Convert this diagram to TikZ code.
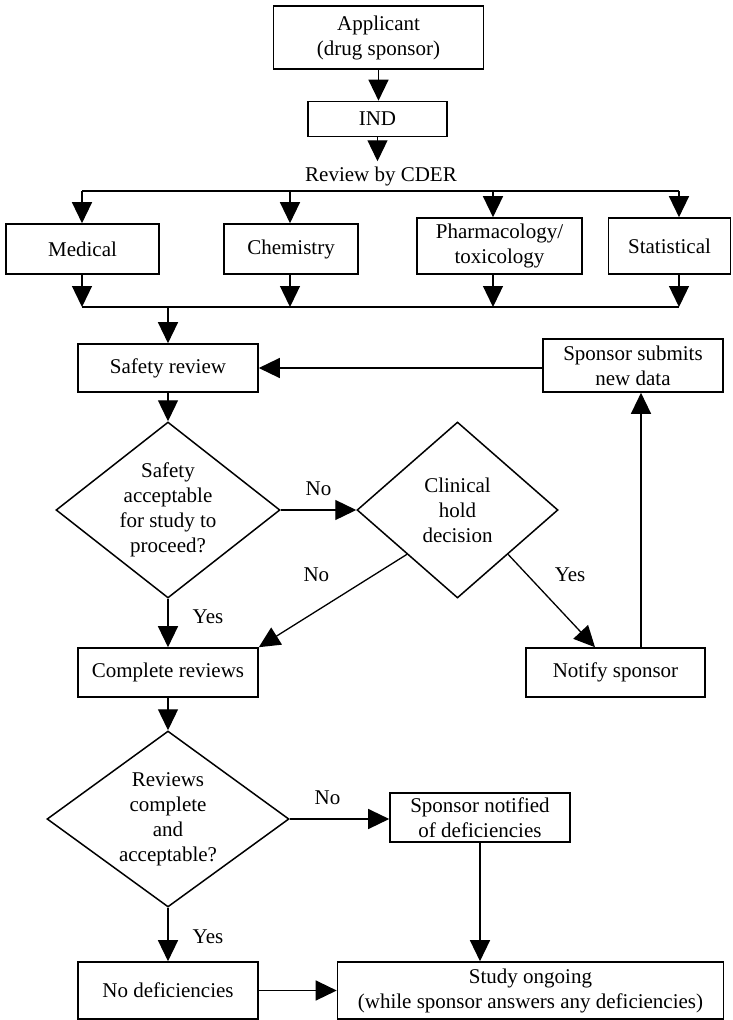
\documentclass[tikz,border=0pt]{standalone}
\usepackage{fontspec}
\setmainfont{Liberation Serif}
\usetikzlibrary{shapes}
\usetikzlibrary{positioning}
\usetikzlibrary{arrows.meta}
\tikzset{
    mybox/.style = {rectangle, line width=1.6pt, draw=black, align=center, inner sep=0pt, font=\fontsize{21}{25}\selectfont},
    mydiam/.style = {diamond, line width=1.5pt, draw=black, align=center, inner sep=0pt, font=\fontsize{21}{25}\selectfont},
    mytext/.style = {align=center, inner sep=5pt, font=\fontsize{21}{25}\selectfont},
    mylabel/.style = {inner sep=0pt, font=\fontsize{21}{25}\selectfont},
    edgen/.style = {-{Triangle[length=21pt,width=20pt]}, line width=1.3pt, black},
    edgep/.style = {-, line width=1.3pt, black}, % plain bus line
}

\begin{document}
\begin{tikzpicture}[x=1pt,y=-1pt]
\useasboundingbox (0,0) rectangle (732,1020);

\node[mybox, minimum width=210pt, minimum height=63pt] at (378.5,  37.5) (appl) {Applicant\\(drug sponsor)};
\node[mybox, minimum width=139pt, minimum height=35pt] at (377.5, 119.0) (ind) {IND};
\node[mytext] at (381.0, 176.0) (cder) {Review by CDER};
\node[mybox, minimum width=153pt, minimum height=50pt] at ( 82.5, 249.0) (med) {Medical};
\node[mybox, minimum width=134pt, minimum height=50pt] at (291.0, 249.0) (chem) {Chemistry};
\node[mybox, minimum width=165pt, minimum height=56pt] at (499.5, 246.0) (pharm) {Pharmacology/\\toxicology};
\node[mybox, minimum width=122pt, minimum height=56pt] at (669.5, 246.0) (stat) {Statistical};
\node[mybox, minimum width=180pt, minimum height=48pt] at (168.0, 368.0) (safe) {Safety review};
\node[mybox, minimum width=180pt, minimum height=53pt] at (633.0, 365.5) (subm) {Sponsor submits\\new data};
\node[mydiam, aspect=1.27, minimum width=224pt, minimum height=176pt] at (168.0, 510.0) (dia1) {Safety\\acceptable\\for study to\\proceed?};
\node[mydiam, aspect=1.14, minimum width=201pt, minimum height=176pt] at (457.5, 510.0) (dia2) {Clinical\\hold\\decision};
\node[mybox, minimum width=180pt, minimum height=49pt] at (168.0, 672.5) (comp) {Complete reviews};
\node[mybox, minimum width=179pt, minimum height=49pt] at (615.5, 672.5) (notify) {Notify sponsor};
\node[mydiam, aspect=1.37, minimum width=242pt, minimum height=176pt] at (168.0, 819.0) (dia3) {Reviews\\complete\\and\\acceptable?};
\node[mybox, minimum width=180pt, minimum height=49pt] at (480.0, 817.5) (notif) {Sponsor notified\\of deficiencies};
\node[mybox, minimum width=180pt, minimum height=57pt] at (168.0, 990.5) (nodef) {No deficiencies};
\node[mybox, minimum width=386pt, minimum height=57pt] at (530.5, 990.5) (study) {Study ongoing\\(while sponsor answers any deficiencies)};

% bus points
\coordinate (ta) at ( 82.0, 191.0);
\coordinate (tb) at (290.0, 191.0);
\coordinate (tc) at (493.0, 191.0);
\coordinate (td) at (679.0, 191.0);
\coordinate (ba) at ( 82.0, 307.0);
\coordinate (bb) at (290.0, 307.0);
\coordinate (bc) at (493.0, 307.0);
\coordinate (bd) at (679.0, 307.0);
\coordinate (bs) at (168.0, 307.0);

\draw[edgen] (appl.south) -- (appl.south |- ind.north);
\draw[edgen] (ind.south) -- (ind.south |- cder.north);
\draw[edgep] (ta) -- (td);
\draw[edgen] (ta) -- (ta |- med.north);
\draw[edgen] (tb) -- (tb |- chem.north);
\draw[edgen] (tc) -- (tc |- pharm.north);
\draw[edgen] (td) -- (td |- stat.north);
\draw[edgen] (ba |- med.south) -- (ba);
\draw[edgen] (bb |- chem.south) -- (bb);
\draw[edgen] (bc |- pharm.south) -- (bc);
\draw[edgen] (bd |- stat.south) -- (bd);
\draw[edgep] (ba) -- (bd);
\draw[edgen] (bs) -- (safe.north);
\draw[edgen] (subm.west |- safe.east) -- (safe.east);
\draw[edgen] (safe.south) -- (dia1.north);
\draw[edgen] (dia1.east) -- node[mylabel, yshift=21pt] {No} (dia2.west);
\draw[edgen] (dia1.south) -- node[mylabel, xshift=40pt, yshift=6pt] {Yes} (comp.north);
\draw[edgen] (dia2.south west) -- node[mylabel, xshift=-16.5pt, yshift=26pt] {No} (comp.north east);
\draw[edgen] (dia2.south east) -- node[mylabel, xshift=18.5pt, yshift=26pt] {Yes} ([xshift=-20.5pt]notify.north);
\draw[edgen] ([xshift=25.5pt]notify.north) -- ([xshift=25.5pt]notify.north |- subm.south);
\draw[edgen] (comp.south) -- (dia3.north);
\draw[edgen] (dia3.east) -- node[mylabel, xshift=-12pt, yshift=21pt] {No} (notif.west |- dia3.east);
\draw[edgen] (dia3.south) -- node[mylabel, xshift=40pt, yshift=-2pt] {Yes} (nodef.north);
\draw[edgen] (notif.south) -- (notif.south |- study.north);
\draw[edgen] (nodef.east) -- (study.west);

\end{tikzpicture}
\end{document}
